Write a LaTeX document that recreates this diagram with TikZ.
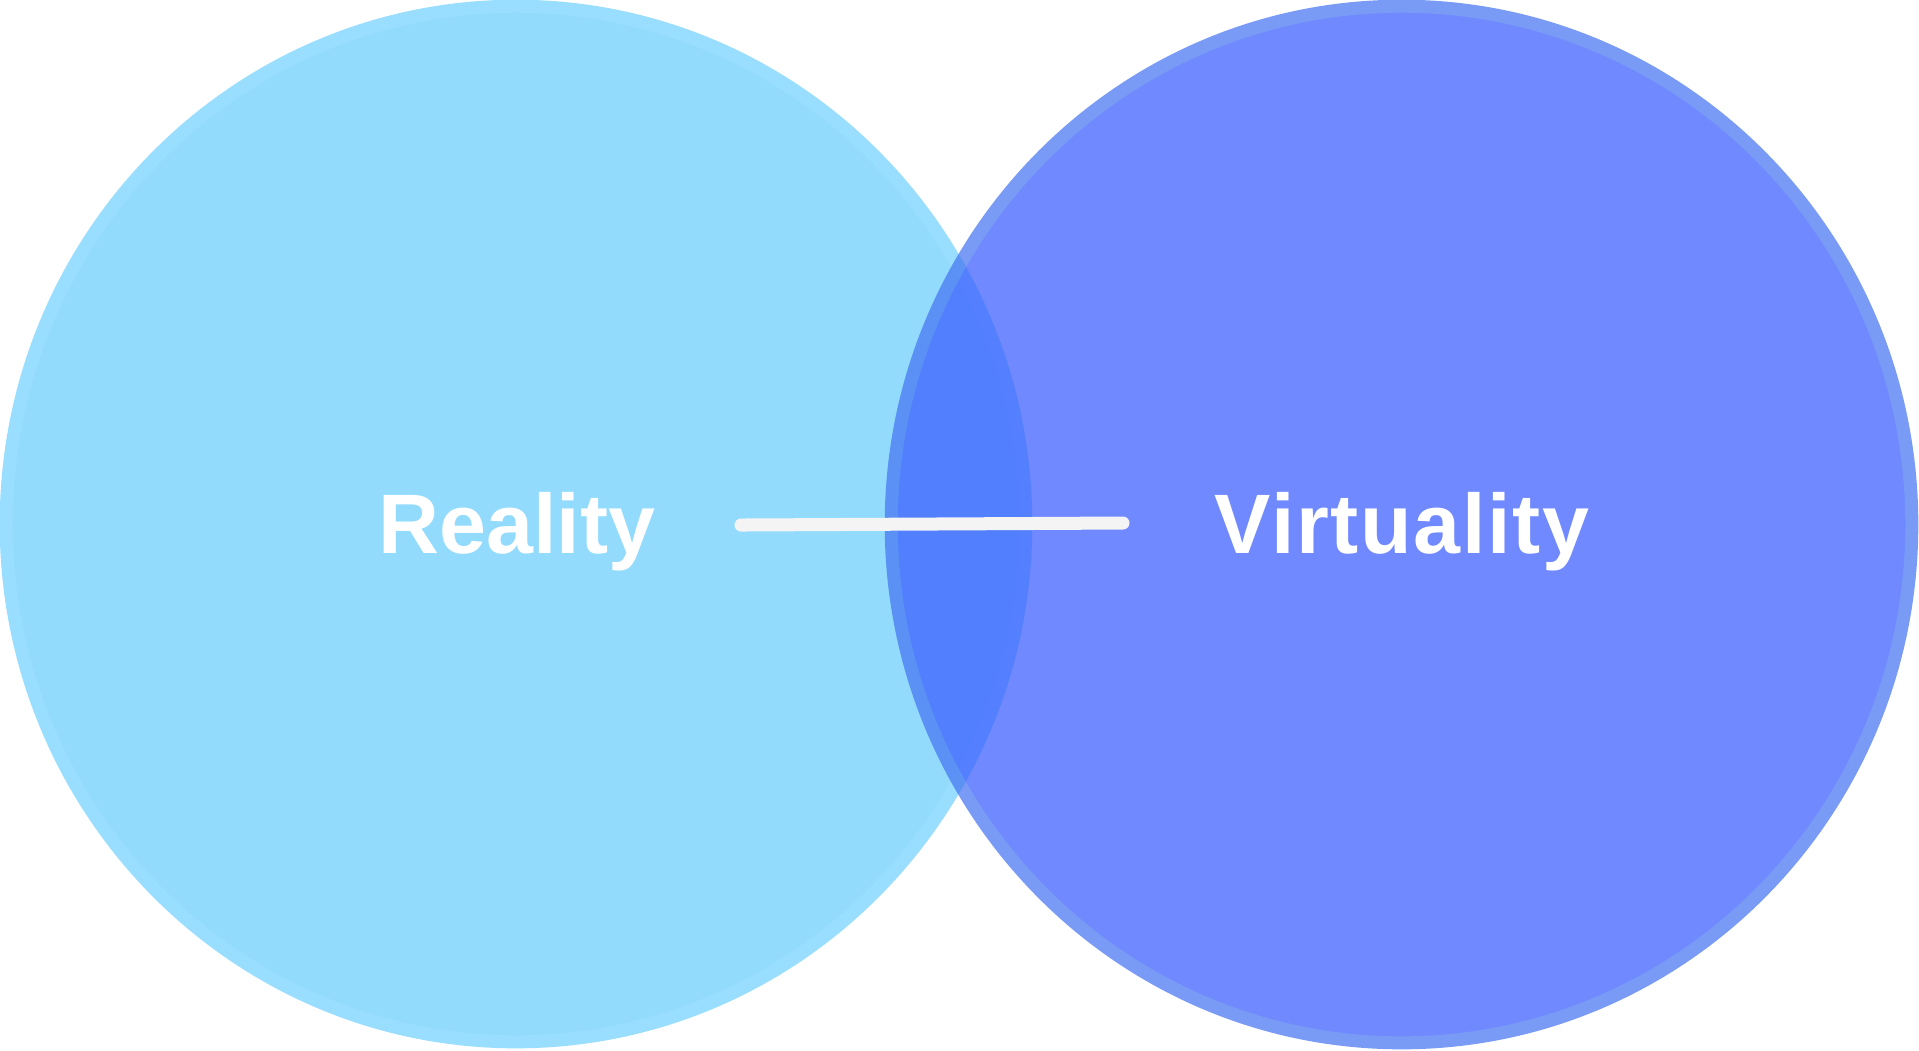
\documentclass[tikz,border=0pt]{standalone}
\usepackage{fontspec}
\setmainfont{Liberation Sans}
\usepackage{xcolor}
\usetikzlibrary{shapes.geometric}
\definecolor{realfill}{HTML}{93DBFD}
\definecolor{realring}{HTML}{9ADEFF}
\definecolor{virtfill}{RGB}{57,92,255}
\definecolor{virtring}{RGB}{70,117,242}
\definecolor{linkgray}{HTML}{F4F4F4}

\tikzset{
  bubble/.style={ellipse, line width=0.13cm, inner sep=0pt,
                 minimum width=10.19cm, minimum height=10.35cm},
  bubblelabel/.style={text=white, anchor=base,
                      font=\fontsize{24pt}{28pt}\selectfont\bfseries},
}

\begin{document}
\begin{tikzpicture}[x=0.01cm, y=-0.01cm]
    \fill[white] (0,0) rectangle (1919,1050);
    \useasboundingbox (0,0) rectangle (1919,1050);
    \node[bubble, fill=realfill, draw=realring] (reality) at (516,524) {};
    \begin{scope}[transparency group, opacity=0.72]
      \node[bubble, fill=virtfill, draw=virtring,
            minimum width=10.2cm, minimum height=10.36cm] (virtuality) at (1401.5,524.5) {};
    \end{scope}
    \node[bubblelabel] (realitytext) at (517,553) {Reality};
    \node[bubblelabel] (virtualitytext) at (1402,553) {\addfontfeature{LetterSpace=2}Virtuality};
    \coordinate (linkstart) at (741,525);
    \coordinate (linkend) at (1123,523);
    \draw[linkgray, line width=0.13cm, line cap=round] (linkstart) -- (linkend);
  \end{tikzpicture}
\end{document}
